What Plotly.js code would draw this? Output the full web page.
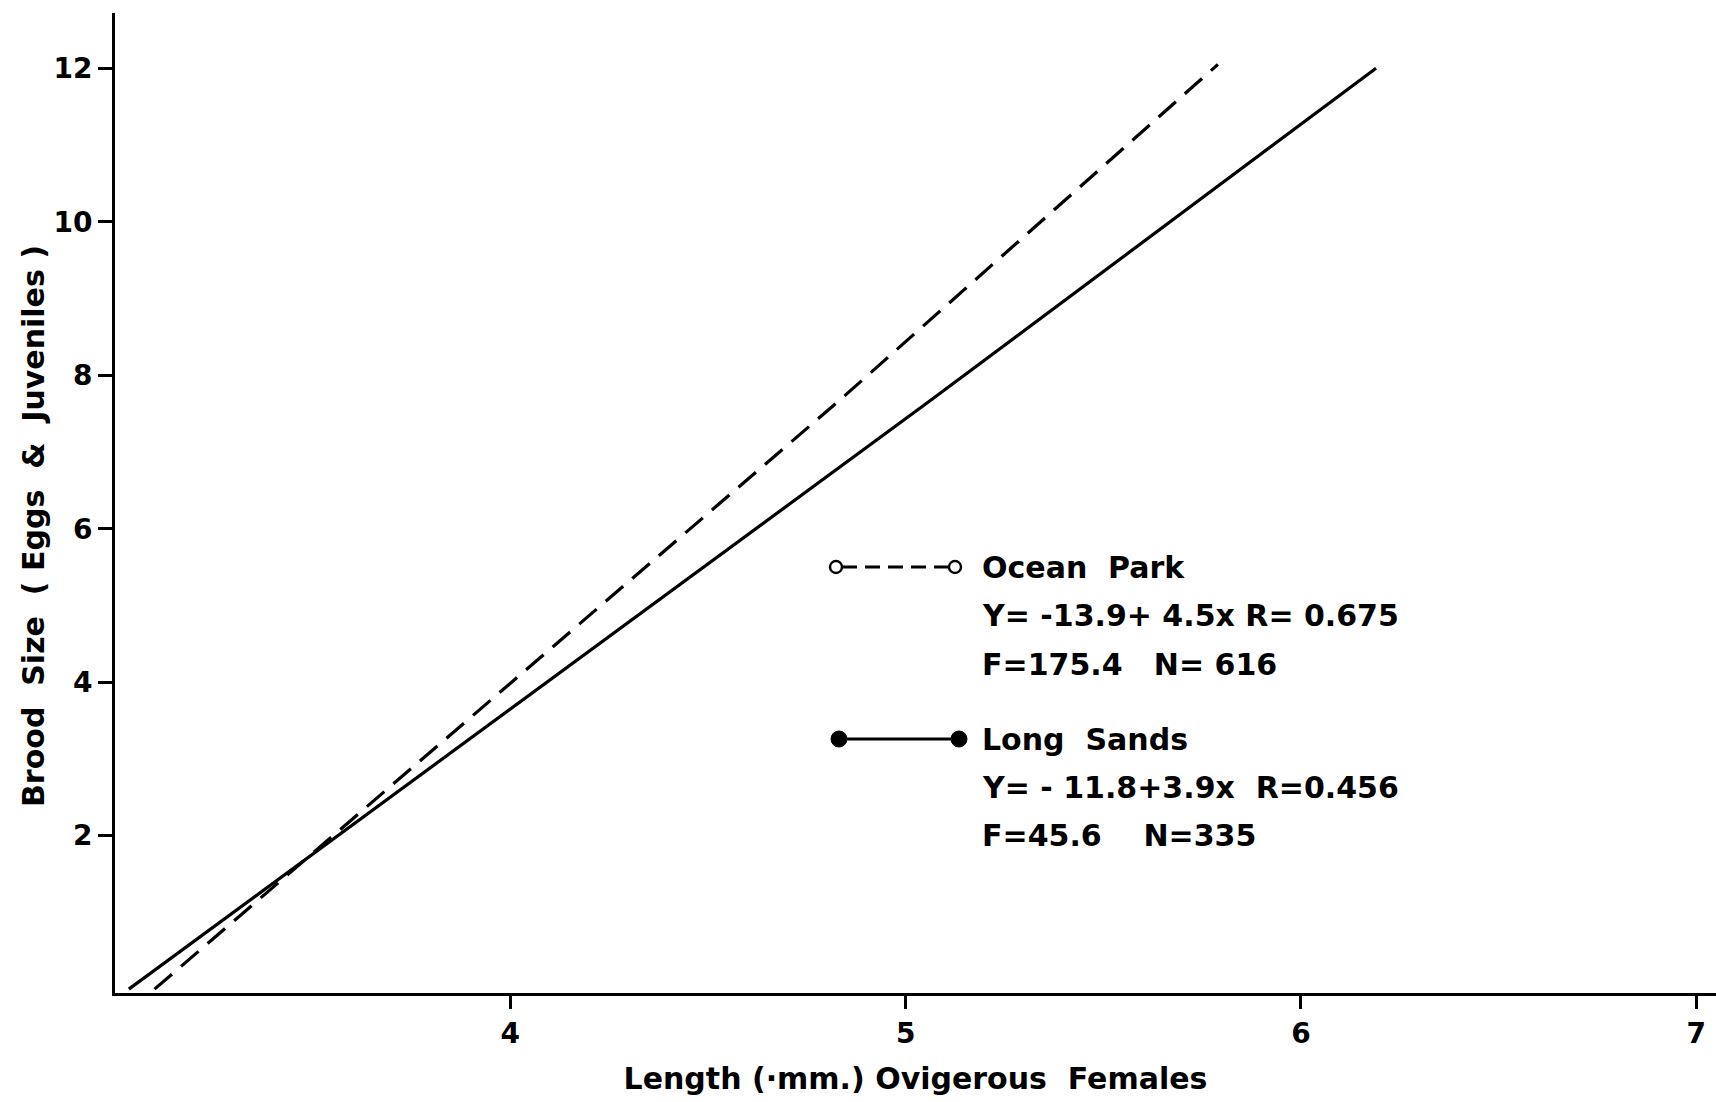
<!DOCTYPE html>
<html>
<head>
<meta charset="utf-8">
<script src="https://cdn.plot.ly/plotly-3.0.1.min.js"></script>
<style>
  html, body { margin: 0; padding: 0; background: #ffffff; }
  #chart { width: 1716px; height: 1102px; }
</style>
</head>
<body>
<div id="chart"></div>
<script>
// Fitted regression lines: brood size against body length of ovigerous females
const oceanParkLength = [3.10, 4.83, 5.79];
const oceanParkBrood  = [0.0, 7.66, 12.05];
const longSandsLength = [3.035, 5.06, 6.19];
const longSandsBrood  = [0.0, 7.66, 12.0];

// Axis ticks
const lengthTicks = [4, 5, 6, 7];
const broodTicks  = [2, 4, 6, 8, 10, 12];

// Axis titles
const lengthTitle = 'Length\u00a0(\u00b7mm.)\u00a0Ovigerous\u00a0\u00a0Females';
const broodTitle  = 'Brood\u00a0\u00a0Size\u00a0\u00a0(\u00a0Eggs\u00a0\u00a0&\u00a0\u00a0Juveniles\u00a0)';

// Key text
const oceanParkLabel = ['Ocean\u00a0\u00a0Park', 'Y=\u00a0-13.9+\u00a04.5x\u00a0R=\u00a00.675', 'F=175.4\u00a0\u00a0\u00a0N=\u00a0616'];
const longSandsLabel = ['Long\u00a0\u00a0Sands', 'Y=\u00a0-\u00a011.8+3.9x\u00a0\u00a0R=0.456', 'F=45.6\u00a0\u00a0\u00a0\u00a0N=335'];

const W = 1716, H = 1102;
const M = { l: 115, r: 0, t: 13, b: 109 };
const plotW = W - M.l - M.r, plotH = H - M.t - M.b;
// pixel position -> paper fraction (for the key and its text)
const px = v => (v - M.l) / plotW;
const py = v => (H - M.b - v) / plotH;

const ink = '#000000';
const tickFont = { family: 'DejaVu Sans, sans-serif', size: 28, color: ink, weight: 'bold' };
const textFont = { family: 'DejaVu Sans, sans-serif', size: 30, color: ink, weight: 'bold' };

const traces = [
  {
    x: oceanParkLength, y: oceanParkBrood, type: 'scatter', mode: 'lines',
    name: 'Ocean Park', line: { color: ink, width: 3.2, dash: '23px,12px' }, hoverinfo: 'skip'
  },
  {
    x: longSandsLength, y: longSandsBrood, type: 'scatter', mode: 'lines',
    name: 'Long Sands', line: { color: ink, width: 3.2 }, hoverinfo: 'skip'
  }
];

// Key symbols: open circles with dashed link, filled circles with solid link
function keyRow(x0, x1, yc, dashed, r, filled) {
  const shapes = [];
  shapes.push({
    type: 'line', xref: 'paper', yref: 'paper',
    x0: px(x0 + r), x1: px(x1 - r), y0: py(yc), y1: py(yc),
    line: { color: ink, width: 2.8, dash: dashed ? '15px,8px' : 'solid' }
  });
  [x0, x1].forEach(cx => shapes.push({
    type: 'circle', xref: 'paper', yref: 'paper',
    x0: px(cx - r), x1: px(cx + r), y0: py(yc + r), y1: py(yc - r),
    line: { color: ink, width: filled ? 1 : 2.4 },
    fillcolor: filled ? ink : '#ffffff'
  }));
  return shapes;
}

const shapes = [].concat(
  keyRow(836, 955, 567, true, 6, false),
  keyRow(839, 959, 739, false, 8, true)
);

const textX = 980;
const rowsY = [567, 616, 664, 739, 787, 835];
const rowText = oceanParkLabel.concat(longSandsLabel);
const annotations = rowText.map((t, i) => ({
  text: t, xref: 'paper', yref: 'paper',
  x: px(textX), y: py(rowsY[i]), xanchor: 'left', yanchor: 'middle',
  showarrow: false, font: textFont
}));

// Vertical axis title, set beside the tick labels
annotations.push({
  text: broodTitle, xref: 'paper', yref: 'paper',
  x: px(33), y: py(526), xanchor: 'center', yanchor: 'middle',
  textangle: -90, showarrow: false, font: textFont
});

const layout = {
  width: W, height: H,
  margin: { l: M.l, r: M.r, t: M.t, b: M.b, pad: 0 },
  paper_bgcolor: '#ffffff', plot_bgcolor: '#ffffff',
  showlegend: false,
  xaxis: {
    range: [3.0, 7.05], tickvals: lengthTicks, ticktext: lengthTicks.map(String),
    showgrid: false, zeroline: false, showline: true, linecolor: ink, linewidth: 3,
    ticks: 'outside', ticklen: 13, tickwidth: 3, tickcolor: ink,
    tickfont: tickFont, automargin: false,
    title: { text: lengthTitle, font: textFont, standoff: 20 }
  },
  yaxis: {
    range: [-0.05, 12.72], tickvals: broodTicks, ticktext: broodTicks.map(String),
    showgrid: false, zeroline: false, showline: true, linecolor: ink, linewidth: 3,
    ticks: 'outside', ticklen: 14, tickwidth: 3, tickcolor: ink,
    tickfont: tickFont, automargin: false
  },
  shapes: shapes,
  annotations: annotations
};

Plotly.newPlot('chart', traces, layout, { staticPlot: true, displayModeBar: false });
</script>
</body>
</html>
